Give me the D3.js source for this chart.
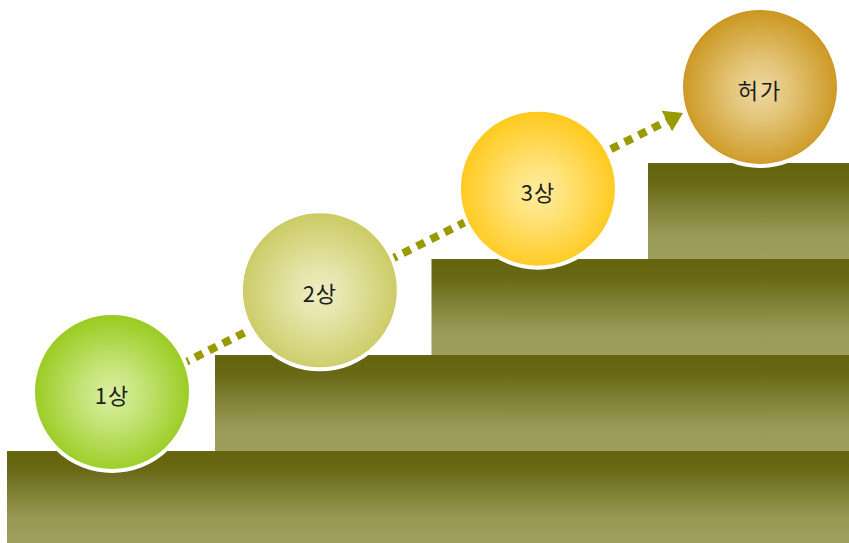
<!DOCTYPE html>
<html><head><meta charset="utf-8">
<script src="https://cdn.jsdelivr.net/npm/d3@7"></script>
<style>html,body{margin:0;padding:0;background:#fff;}svg{display:block;}</style>
</head><body>
<svg id="c" width="849" height="543"></svg>
<script>
// ---- data ----
const labels = ["1상", "2상", "3상", "허가"];
const levels = [0, 1, 2, 3];
const edgeColors = ["#9acc22", "#cccb66", "#ffca1e", "#cc9822"];
const centerColors = ["#daefa2", "#eeeec4", "#ffeca0", "#eed9a2"];

const W = 849, H = 543;
const svg = d3.select("#c");
const defs = svg.append("defs");

// scales
const stepX = d3.scaleLinear().domain([1, 3]).range([215, 648]);
const stepY = d3.scaleLinear().domain([0, 4]).range([451, 67]);
const cX = d3.scalePow().exponent(1.035).domain([0, 3]).range([112, 760]);
const cY = d3.scaleLinear().domain([0, 3]).range([392, 87]);
const R = 77;

// step gradient
const sg = defs.append("linearGradient").attr("id", "stepG").attr("x1", 0).attr("y1", 0).attr("x2", 0).attr("y2", 1);
sg.append("stop").attr("offset", "0").attr("stop-color", "#65650f");
sg.append("stop").attr("offset", "0.18").attr("stop-color", "#676714");
sg.append("stop").attr("offset", "0.75").attr("stop-color", "#9a9a57");
sg.append("stop").attr("offset", "1").attr("stop-color", "#9f9f5e");

// steps
svg.append("g").selectAll("rect").data(levels).join("rect")
  .attr("x", d => d === 0 ? 7 : stepX(d))
  .attr("y", d => stepY(d))
  .attr("width", d => W - (d === 0 ? 7 : stepX(d)))
  .attr("height", d => Math.min(stepY(d - 1), H) - stepY(d))
  .attr("fill", "url(#stepG)");

// dotted arrow
const p0 = [cX(0), cY(0) + 7];
const p1 = [cX(3) - R, cY(3) + 26];
const ang = Math.atan2(p1[1] - p0[1], p1[0] - p0[0]);
const aLen = 18, aHalf = 11.5;
const base = [p1[0] - aLen * Math.cos(ang), p1[1] - aLen * Math.sin(ang)];
const lineEnd = [base[0] + 1 * Math.cos(ang), base[1] + 1 * Math.sin(ang)];
svg.append("path")
  .attr("d", d3.line()([p0, lineEnd]))
  .attr("stroke", "#999900").attr("stroke-width", 8)
  .attr("stroke-dasharray", "8.5,7").attr("fill", "none");
const nx = -Math.sin(ang), ny = Math.cos(ang);
svg.append("path")
  .attr("d", d3.line()([p1, [base[0] + nx * aHalf, base[1] + ny * aHalf], [base[0] - nx * aHalf, base[1] - ny * aHalf]]) + "Z")
  .attr("fill", "#999900");

// circle gradients
levels.forEach(i => {
  const g = defs.append("radialGradient").attr("id", "cg" + i)
    .attr("cx", "50%").attr("cy", "52%").attr("r", "50%");
  g.append("stop").attr("offset", "0").attr("stop-color", centerColors[i]);
  g.append("stop").attr("offset", "0.35").attr("stop-color", d3.interpolateRgb(centerColors[i], edgeColors[i])(0.3));
  g.append("stop").attr("offset", "1").attr("stop-color", edgeColors[i]);
});

const circ = svg.append("g").selectAll("g").data(levels).join("g");
circ.append("circle")
  .attr("cx", d => cX(d)).attr("cy", d => cY(d)).attr("r", R + 2)
  .attr("fill", d => `url(#cg${d})`)
  .attr("stroke", "#fff").attr("stroke-width", 4);
circ.append("text")
  .attr("x", d => cX(d)).attr("y", d => cY(d) + 2)
  .attr("text-anchor", "middle").attr("dominant-baseline", "central")
  .attr("font-family", "'Noto Sans CJK KR', 'Noto Sans', sans-serif")
  .attr("font-size", 22).attr("fill", "#1e1e1e")
  .attr("letter-spacing", d => labels[d] === "허가" ? 2 : 1)
  .text(d => labels[d]);
</script>
</body></html>
